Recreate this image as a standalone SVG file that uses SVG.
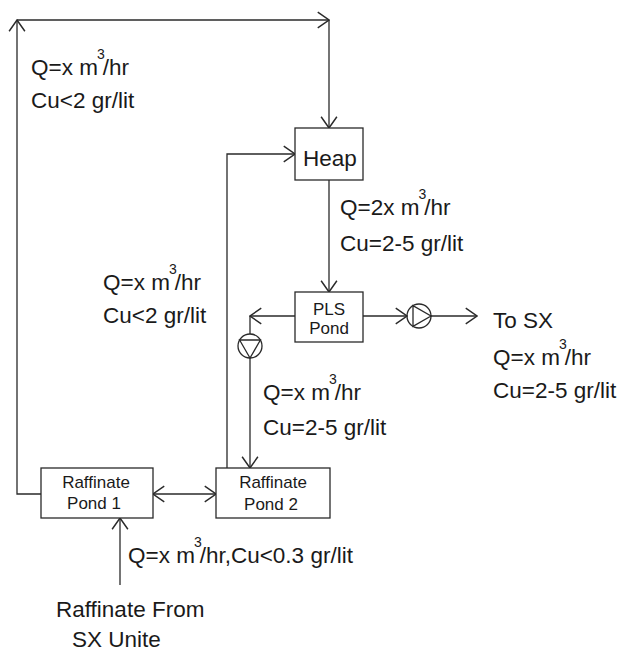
<svg xmlns="http://www.w3.org/2000/svg" width="625" height="653" viewBox="0 0 625 653">
<style>
  .ln{fill:none;stroke:#2a2a2a;stroke-width:1.3}
  .box{fill:#fff;stroke:#2a2a2a;stroke-width:1.3}
  .lbl{font-family:"Liberation Sans",Arial,sans-serif;font-size:22.5px;fill:#1a1a1a}
  .sm{font-family:"Liberation Sans",Arial,sans-serif;font-size:17px;fill:#1a1a1a;text-anchor:middle}
  .sup{font-size:14px}
</style>
<defs>
  <marker id="arr" markerUnits="userSpaceOnUse" markerWidth="14" markerHeight="18" viewBox="-11 -8 12 16" refX="0" refY="0" orient="auto-start-reverse">
    <path d="M-10,-7 L0,0 L-10,7" fill="none" stroke="#2a2a2a" stroke-width="1.3"/>
  </marker>
</defs>
<rect width="625" height="653" fill="#fff"/>
<g id="connectors">
  <polyline class="ln" points="41,494 17,494 17,20" marker-end="url(#arr)"/>
  <line class="ln" x1="17" y1="20" x2="329" y2="20" marker-end="url(#arr)"/>
  <line class="ln" x1="329" y1="20" x2="329" y2="128" marker-end="url(#arr)"/>
  <polyline class="ln" points="227,468 227,154 295,154" marker-end="url(#arr)"/>
  <line class="ln" x1="329" y1="180" x2="329" y2="292" marker-end="url(#arr)"/>
  <line class="ln" x1="295" y1="316" x2="250" y2="316" marker-end="url(#arr)"/>
  <line class="ln" x1="250" y1="316" x2="250" y2="334"/>
  <line class="ln" x1="250" y1="358" x2="250" y2="468" marker-end="url(#arr)"/>
  <line class="ln" x1="363" y1="316" x2="407" y2="316" marker-end="url(#arr)"/>
  <line class="ln" x1="430" y1="316" x2="477" y2="316" marker-end="url(#arr)"/>
  <line class="ln" x1="153" y1="494" x2="216" y2="494" marker-start="url(#arr)" marker-end="url(#arr)"/>
  <line class="ln" x1="120" y1="585" x2="120" y2="518" marker-end="url(#arr)"/>
</g>
<g id="pump1">
  <circle class="ln" cx="250" cy="346" r="12"/>
  <polygon class="ln" points="239.6,340 260.4,340 250,358"/>
</g>
<g id="pump2">
  <circle class="ln" cx="419" cy="316" r="12"/>
  <polygon class="ln" points="413,305.6 413,326.4 431,316"/>
</g>
<g id="heap">
  <rect class="box" x="295" y="128" width="68" height="52"/>
  <text class="lbl" x="330" y="166" text-anchor="middle">Heap</text>
</g>
<g id="pls-pond">
  <rect class="box" x="295" y="292" width="68" height="50"/>
  <text class="sm" x="329" y="315">PLS</text>
  <text class="sm" x="329" y="334">Pond</text>
</g>
<g id="raffinate-pond-1">
  <rect class="box" x="41" y="468" width="112" height="50"/>
  <text class="sm" x="96" y="488">Raffinate</text>
  <text class="sm" x="94" y="509">Pond 1</text>
</g>
<g id="raffinate-pond-2">
  <rect class="box" x="216" y="468" width="114" height="50"/>
  <text class="sm" x="273" y="488">Raffinate</text>
  <text class="sm" x="271" y="510">Pond 2</text>
</g>
<g id="labels">
  <text class="lbl" x="31" y="75">Q=x m<tspan class="sup" dx="-1" dy="-16">3</tspan><tspan dx="-2" dy="16">/hr</tspan></text>
  <text class="lbl" x="31" y="108">Cu&lt;2 gr/lit</text>
  <text class="lbl" x="340" y="215">Q=2x m<tspan class="sup" dx="-1" dy="-16">3</tspan><tspan dx="-2" dy="16">/hr</tspan></text>
  <text class="lbl" x="340" y="251">Cu=2-5 gr/lit</text>
  <text class="lbl" x="103" y="290">Q=x m<tspan class="sup" dx="-1" dy="-16">3</tspan><tspan dx="-2" dy="16">/hr</tspan></text>
  <text class="lbl" x="103" y="323">Cu&lt;2 gr/lit</text>
  <text class="lbl" x="263" y="400">Q=x m<tspan class="sup" dx="-1" dy="-16">3</tspan><tspan dx="-2" dy="16">/hr</tspan></text>
  <text class="lbl" x="263" y="435">Cu=2-5 gr/lit</text>
  <text class="lbl" x="493" y="328">To SX</text>
  <text class="lbl" x="493" y="365">Q=x m<tspan class="sup" dx="-1" dy="-16">3</tspan><tspan dx="-2" dy="16">/hr</tspan></text>
  <text class="lbl" x="493" y="398">Cu=2-5 gr/lit</text>
  <text class="lbl" x="128" y="563">Q=x m<tspan class="sup" dx="-1" dy="-16">3</tspan><tspan dx="-2" dy="16">/hr,Cu&lt;0.3 gr/lit</tspan></text>
  <text class="lbl" x="56" y="617">Raffinate From</text>
  <text class="lbl" x="72" y="647">SX Unite</text>
</g>
</svg>
